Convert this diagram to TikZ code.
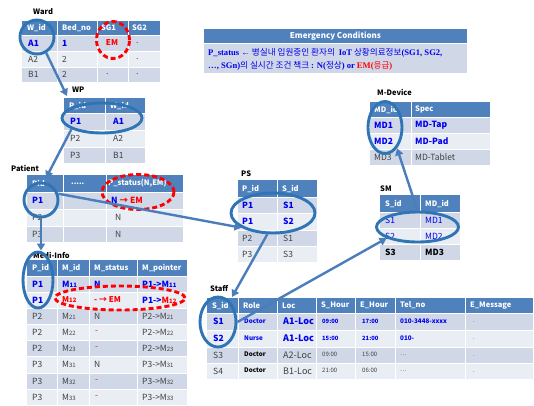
\documentclass[tikz,border=0pt]{standalone}
\usepackage{fontspec}
\setmainfont{Noto Sans CJK KR}
\newfontfamily\serifb{Liberation Serif}
\usetikzlibrary{shapes.geometric,arrows.meta}
\definecolor{hdrc}{HTML}{4F81BD}
\definecolor{rowd}{HTML}{D0D8E8}
\definecolor{rowl}{HTML}{E9EDF4}
\definecolor{ellc}{HTML}{2F75B5}
\definecolor{arrc}{HTML}{4A7EBB}
\definecolor{txtc}{HTML}{404040}
\definecolor{tblue}{HTML}{0000EE}
\newcommand\sub[1]{{\fontsize{6}{6}\selectfont #1}}
\begin{document}
\begin{tikzpicture}[x=1pt,y=-1pt,
  hd/.style={anchor=west,inner sep=0pt,text=white,font=\bfseries\fontsize{7.5}{8}\selectfont},
  tx/.style={anchor=west,inner sep=0pt,text=txtc,font=\fontsize{8.5}{9}\selectfont},
  bt/.style={anchor=west,inner sep=0pt,text=tblue,font=\bfseries\fontsize{8.5}{9}\selectfont},
  rt/.style={anchor=west,inner sep=0pt,text=red,font=\bfseries\fontsize{8}{9}\selectfont},
  sm/.style={anchor=west,inner sep=0pt,font=\fontsize{6}{7}\selectfont},
  lbl/.style={anchor=west,inner sep=0pt,font=\bfseries\fontsize{7.5}{8}\selectfont},
  ell/.style={ellipse,draw=ellc,line width=2.9pt,inner sep=0pt},
  rell/.style={ellipse,draw=red,line width=2.9pt,dash pattern=on 5pt off 3pt,inner sep=0pt},
  arr/.style={draw=arrc,line width=2.4pt,-{Triangle[length=7pt,width=8pt]}},
  gridl/.style={white,line width=0.8pt}]
\useasboundingbox (0,0) rectangle (534,405);
\fill[white] (0,0) rectangle (534,405);

% ---------- Ward ----------
\fill[hdrc] (22,21) rectangle (160,35);
\fill[rowd] (22,35) rectangle (160,51);
\fill[rowl] (22,51) rectangle (160,67);
\fill[rowd] (22,67) rectangle (160,82);
\foreach \x in {57,97,128} \draw[gridl] (\x,21) -- (\x,82);
\foreach \y in {35,51,67} \draw[gridl] (22,\y) -- (160,\y);
\node[lbl] (wardlbl) at (33,12) {Ward};
\node[hd] (wh1) at (27,28) {W\_id};
\node[hd] (wh2) at (62,28) {Bed\_no};
\node[hd] (wh3) at (101,28) {SG1};
\node[hd] (wh4) at (132,28) {SG2};
\node[bt] (w11) at (28,43) {A1};
\node[bt] (w12) at (62,43) {1};
\node[rt,anchor=center] (w13) at (112,43) {EM};
\node[tx] (w14) at (136,43) {.};
\node[tx] (w21) at (28,59) {A2};
\node[tx] (w22) at (62,59) {2};
\node[tx] (w23) at (106,59) {.};
\node[tx] (w24) at (136,59) {.};
\node[tx] (w31) at (28,74.5) {B1};
\node[tx] (w32) at (62,74.5) {2};
\node[tx] (w33) at (106,74.5) {.};
\node[tx] (w34) at (136,74.5) {.};

% ---------- WP ----------
\fill[hdrc] (64,98) rectangle (145,113);
\fill[rowd] (64,113) rectangle (145,130);
\fill[rowl] (64,130) rectangle (145,147);
\fill[rowd] (64,147) rectangle (145,163);
\draw[gridl] (105,98) -- (105,163);
\foreach \y in {113,130,147} \draw[gridl] (64,\y) -- (145,\y);
\node[lbl] (wplbl) at (72,90) {WP};
\node[hd] (ph1) at (69,105.5) {P\_id};
\node[hd] (ph2) at (110,105.5) {W\_id};
\node[bt] (p11) at (70,121.5) {P1};
\node[bt] (p12) at (113,121.5) {A1};
\node[tx] (p21) at (70,138.5) {P2};
\node[tx] (p22) at (113,138.5) {A2};
\node[tx] (p31) at (70,155) {P3};
\node[tx] (p32) at (113,155) {B1};

% ---------- Patient ----------
\fill[hdrc] (27,175) rectangle (183,192);
\fill[rowd] (27,192) rectangle (183,209);
\fill[rowl] (27,209) rectangle (183,226);
\fill[rowd] (27,226) rectangle (183,242);
\foreach \x in {63,106} \draw[gridl] (\x,175) -- (\x,242);
\foreach \y in {192,209,226} \draw[gridl] (27,\y) -- (183,\y);
\node[lbl] (patlbl) at (11,168) {Patient};
\node[hd] (th1) at (32,183.5) {Pid};
\node[hd] (th2) at (71,183.5) {.....};
\node[hd] (th3) at (108,183.5) {P\_status(N,EM)};
\node[bt] (t11) at (32,200.5) {P1};
\node[bt] (t13) at (111,200.5) {N {\color{red}→ EM}};
\node[tx] (t21) at (32,217.5) {P2};
\node[tx] (t23) at (115,217.5) {N};
\node[tx] (t31) at (32,234) {P3};
\node[tx] (t33) at (115,234) {N};

% ---------- Medi-Info ----------
\fill[hdrc] (27,260) rectangle (187,276);
\fill[rowd] (27,276) rectangle (187,292);
\fill[rowl] (27,292) rectangle (187,308);
\fill[rowd] (27,308) rectangle (187,324.5);
\fill[rowl] (27,324.5) rectangle (187,340.5);
\fill[rowd] (27,340.5) rectangle (187,356.5);
\fill[rowl] (27,356.5) rectangle (187,373);
\fill[rowd] (27,373) rectangle (187,389);
\fill[rowl] (27,389) rectangle (187,405);
\foreach \x in {57,89,137} \draw[gridl] (\x,260) -- (\x,405);
\foreach \y in {276,292,308,324.5,340.5,356.5,373,389} \draw[gridl] (27,\y) -- (187,\y);
\node[lbl] (milbl) at (33,255) {Medi-Info};
\node[hd] (mh1) at (32,268) {P\_id};
\node[hd] (mh2) at (62,268) {M\_id};
\node[hd] (mh3) at (94,268) {M\_status};
\node[hd] (mh4) at (142,268) {M\_pointer};
\node[bt] (m11) at (32,284) {P1};
\node[bt] (m12) at (62,284) {M\sub{11}};
\node[bt] (m13) at (94,284) {N};
\node[bt] (m14) at (142,284) {P1->M\sub{11}};
\node[bt] (m21) at (32,300) {P1};
\node[rt] (m22) at (62,300) {M\sub{12}};
\node[rt] (m23) at (94,300) {- → EM};
\node[bt] (m24) at (142,300) {P1->{\color{red}M\sub{12}}};
\node[tx] (m31) at (32,316.2) {P2};
\node[tx] (m32) at (62,316.2) {M\sub{21}};
\node[tx] (m33) at (94,316.2) {N};
\node[tx] (m34) at (142,316.2) {P2->M\sub{21}};
\node[tx] (m41) at (32,332.5) {P2};
\node[tx] (m42) at (62,332.5) {M\sub{22}};
\node[tx,text=red] (m43) at (95,332.5) {-};
\node[tx] (m44) at (142,332.5) {P2->M\sub{22}};
\node[tx] (m51) at (32,348.5) {P2};
\node[tx] (m52) at (62,348.5) {M\sub{23}};
\node[tx,text=red] (m53) at (95,348.5) {-};
\node[tx] (m54) at (142,348.5) {P2->M\sub{23}};
\node[tx] (m61) at (32,364.7) {P3};
\node[tx] (m62) at (62,364.7) {M\sub{31}};
\node[tx] (m63) at (94,364.7) {N};
\node[tx] (m64) at (142,364.7) {P3->M\sub{31}};
\node[tx] (m71) at (32,381) {P3};
\node[tx] (m72) at (62,381) {M\sub{32}};
\node[tx,text=red] (m73) at (95,381) {-};
\node[tx] (m74) at (142,381) {P3->M\sub{32}};
\node[tx] (m81) at (32,397) {P3};
\node[tx] (m82) at (62,397) {M\sub{33}};
\node[tx,text=red] (m83) at (95,397) {-};
\node[tx] (m84) at (142,397) {P3->M\sub{33}};

% ---------- Emergency Conditions ----------
\fill[hdrc] (204,29) rectangle (467,43);
\fill[rowd] (204,43) rectangle (467,73);
\draw[gridl] (204,43) -- (467,43);
\node[hd,anchor=center,font=\bfseries\fontsize{8}{9}\selectfont] (emt) at (335.5,36) {Emergency Conditions};
\node[anchor=west,inner sep=0pt,text=tblue,font=\fontsize{8.6}{9}\selectfont] (em1) at (208,53)
  {{\serifb\bfseries P\_status ←} 병실내 입원중인 환자의 \ {\serifb\bfseries IoT} 상황의료정보{\serifb\bfseries (SG1, SG2,}};
\node[anchor=west,inner sep=0pt,text=tblue,font=\fontsize{8.6}{9}\selectfont] (em2) at (208,65.5)
  {{\serifb\bfseries …, SGn)}의 실시간 조건 책크 {\serifb\bfseries : N(}정상{\serifb\bfseries ) or} {\color{red}{\serifb\bfseries EM(}응급{\serifb\bfseries )}}};

% ---------- M-Device ----------
\fill[hdrc] (370,102) rectangle (490,117);
\fill[rowd] (370,117) rectangle (490,133);
\fill[rowl] (370,133) rectangle (490,149);
\fill[rowd] (370,149) rectangle (490,165);
\draw[gridl] (411,102) -- (411,165);
\foreach \y in {117,133,149} \draw[gridl] (370,\y) -- (490,\y);
\node[lbl] (mdlbl) at (377,92) {M-Device};
\node[hd] (dh1) at (374,109.5) {MD\_id};
\node[hd] (dh2) at (415,109.5) {Spec};
\node[bt] (d11) at (374,125) {MD1};
\node[bt] (d12) at (415,125) {MD-Tap};
\node[bt] (d21) at (374,141) {MD2};
\node[bt] (d22) at (415,141) {MD-Pad};
\node[tx] (d31) at (374,157) {MD3};
\node[tx] (d32) at (415,157) {MD-Tablet};

% ---------- SM ----------
\fill[hdrc] (380,195) rectangle (460,212);
\fill[rowd] (380,212) rectangle (460,228);
\fill[rowl] (380,228) rectangle (460,244);
\fill[rowd] (380,244) rectangle (460,260);
\draw[gridl] (420,195) -- (420,260);
\foreach \y in {212,228,244} \draw[gridl] (380,\y) -- (460,\y);
\node[lbl] (smlbl) at (380,189) {SM};
\node[hd] (sh1) at (385,203.5) {S\_id};
\node[hd] (sh2) at (425,203.5) {MD\_id};
\node[tx,text=tblue] (s11) at (385,220) {S1};
\node[tx,text=tblue] (s12) at (425,220) {MD1};
\node[tx,text=tblue] (s21) at (385,236) {S2};
\node[tx,text=tblue] (s22) at (425,236) {MD2};
\node[tx,text=black,font=\bfseries\fontsize{8.5}{9}\selectfont] (s31) at (385,252) {S3};
\node[tx,text=black,font=\bfseries\fontsize{8.5}{9}\selectfont] (s32) at (425,252) {MD3};

% ---------- PS ----------
\fill[hdrc] (238,180) rectangle (317,197);
\fill[rowd] (238,197) rectangle (317,213);
\fill[rowl] (238,213) rectangle (317,230);
\fill[rowd] (238,230) rectangle (317,246);
\fill[rowl] (238,246) rectangle (317,262);
\draw[gridl] (277,180) -- (277,262);
\foreach \y in {197,213,230,246} \draw[gridl] (238,\y) -- (317,\y);
\node[lbl] (pslbl) at (241,174) {PS};
\node[hd] (qh1) at (242,188.5) {P\_id};
\node[hd] (qh2) at (282,188.5) {S\_id};
\node[bt] (q11) at (242,205) {P1};
\node[bt] (q12) at (283,205) {S1};
\node[bt] (q21) at (242,221.5) {P1};
\node[bt] (q22) at (283,221.5) {S2};
\node[tx] (q31) at (242,238) {P2};
\node[tx] (q32) at (283,238) {S1};
\node[tx] (q41) at (242,254) {P3};
\node[tx] (q42) at (283,254) {S3};

% ---------- Staff ----------
\fill[hdrc] (207,298) rectangle (533,313);
\fill[rowd] (207,313) rectangle (533,330);
\fill[rowl] (207,330) rectangle (533,347);
\fill[rowd] (207,347) rectangle (533,363);
\fill[rowl] (207,363) rectangle (533,379);
\foreach \x in {238,277,316,355,395,465} \draw[gridl] (\x,298) -- (\x,379);
\foreach \y in {313,330,347,363} \draw[gridl] (207,\y) -- (533,\y);
\node[lbl] (stlbl) at (210,288) {Staff};
\node[hd] (fh1) at (212,305.5) {S\_id};
\node[hd] (fh2) at (243,305.5) {Role};
\node[hd] (fh3) at (282,305.5) {Loc};
\node[hd] (fh4) at (321,305.5) {S\_Hour};
\node[hd] (fh5) at (360,305.5) {E\_Hour};
\node[hd] (fh6) at (400,305.5) {Tel\_no};
\node[hd] (fh7) at (470,305.5) {E\_Message};
\node[bt] (f11) at (213,321.5) {S1};
\node[sm,text=tblue,font=\bfseries\fontsize{6.3}{7}\selectfont] (f12) at (244,321) {Doctor};
\node[bt,font=\bfseries\fontsize{9}{9}\selectfont] (f13) at (283,321.5) {A1-Loc};
\node[sm,text=tblue,font=\bfseries\fontsize{5.8}{7}\selectfont] (f14) at (322,321) {09:00};
\node[sm,text=tblue,font=\bfseries\fontsize{5.8}{7}\selectfont] (f15) at (362,321) {17:00};
\node[sm,text=tblue,font=\bfseries\fontsize{6.3}{7}\selectfont] (f16) at (400,321) {010-3448-xxxx};
\node[sm,text=txtc] (f17) at (473,322) {.};
\node[bt] (f21) at (213,338.5) {S2};
\node[sm,text=tblue,font=\bfseries\fontsize{6.3}{7}\selectfont] (f22) at (244,338) {Nurse};
\node[bt,font=\bfseries\fontsize{9}{9}\selectfont] (f23) at (283,338.5) {A1-Loc};
\node[sm,text=tblue,font=\bfseries\fontsize{5.8}{7}\selectfont] (f24) at (322,338) {15:00};
\node[sm,text=tblue,font=\bfseries\fontsize{5.8}{7}\selectfont] (f25) at (362,338) {21:00};
\node[sm,text=tblue,font=\bfseries\fontsize{6.3}{7}\selectfont] (f26) at (400,338) {010-};
\node[sm,text=txtc] (f27) at (473,339) {.};
\node[tx] (f31) at (213,355) {S3};
\node[sm,text=black,font=\bfseries\fontsize{6.3}{7}\selectfont] (f32) at (244,354.5) {Doctor};
\node[tx,font=\fontsize{9}{9}\selectfont] (f33) at (283,355) {A2-Loc};
\node[sm,text=txtc] (f34) at (322,354.5) {09:00};
\node[sm,text=txtc] (f35) at (362,354.5) {15:00};
\node[sm,text=txtc] (f36) at (400,355.5) {…};
\node[sm,text=txtc] (f37) at (473,356) {.};
\node[tx] (f41) at (213,371) {S4};
\node[sm,text=black,font=\bfseries\fontsize{6.3}{7}\selectfont] (f42) at (244,370.5) {Doctor};
\node[tx,font=\fontsize{9}{9}\selectfont] (f43) at (283,371) {B1-Loc};
\node[sm,text=txtc] (f44) at (322,370.5) {21:00};
\node[sm,text=txtc] (f45) at (362,370.5) {06:00};
\node[sm,text=txtc] (f46) at (400,371.5) {…};
\node[sm,text=txtc] (f47) at (473,372) {.};

% ---------- highlight ellipses ----------
\node[ell,minimum width=34pt,minimum height=34pt] (wardc) at (37,37) {};
\node[rell,minimum width=33pt,minimum height=37pt] (wardem) at (113,40) {};
\node[ell,minimum width=80pt,minimum height=30pt] (wpe) at (102,118) {};
\node[ell,minimum width=34pt,minimum height=34pt] (patc) at (41,200) {};
\node[rell,minimum width=72pt,minimum height=35pt] (pate) at (138,192) {};
\node[ell,minimum width=30pt,minimum height=56pt] (medie) at (38,280) {};
\node[rell,minimum width=130pt,minimum height=24pt] (medire) at (120,298) {};
\node[ell,minimum width=34pt,minimum height=52pt] (mde) at (385,127.5) {};
\node[ell,minimum width=82pt,minimum height=30pt] (sme) at (417.5,227) {};
\node[ell,minimum width=84pt,minimum height=40pt] (pse) at (273,213) {};
\node[ell,minimum width=36pt,minimum height=50pt] (stfe) at (218,322) {};

% ---------- connectors ----------
\coordinate (wpin) at (67,96);
\coordinate (patin) at (46,178);
\coordinate (stfin) at (232,297);
\draw[arr] (wardc.-60) -- (wpin);
\draw[arr] (wpe.-160) -- (patin);
\draw[arr] (patc.south) -- (patc.south |- medie.north);
\draw[arr] (patc.20) -- (pse.-155);
\draw[arr] (pse.-105) -- (stfin);
\draw[arr] (stfe.0) -- (sme.-160);
\draw[arr] (sme.north) -- (mde.-60);
\end{tikzpicture}
\end{document}
